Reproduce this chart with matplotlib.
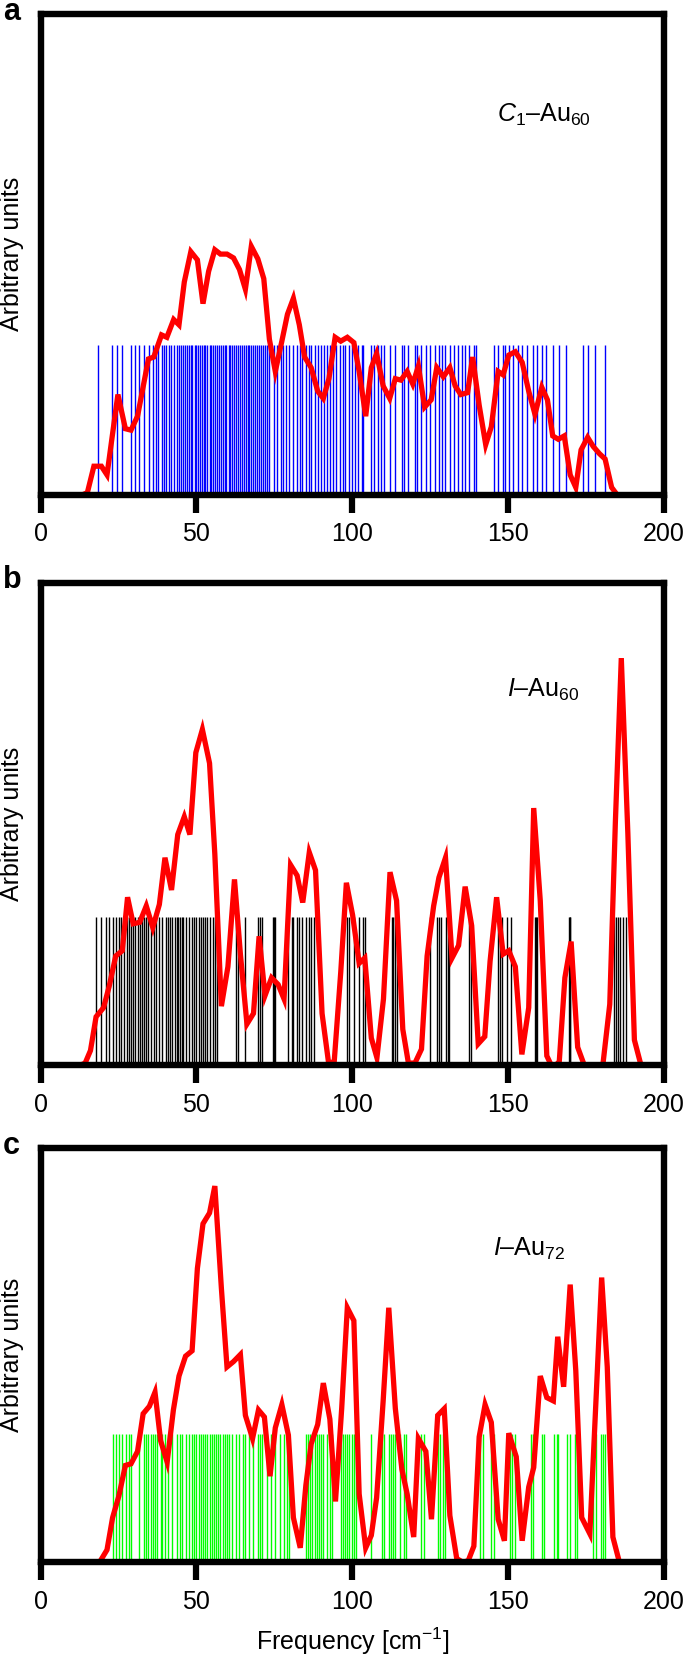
import numpy as np
import matplotlib as mpl
mpl.use('agg')
import matplotlib.pyplot as plt

plt.rcParams['font.family'] = ['Liberation Sans', 'DejaVu Sans']
plt.rcParams['mathtext.fontset'] = 'custom'
plt.rcParams['mathtext.rm'] = 'Liberation Sans'
plt.rcParams['mathtext.it'] = 'Liberation Sans:italic'

# ---- panel a : C1-Au60 ----
a_freq = [13.6, 15.0, 17.1, 19.5, 21.3, 24.8, 27.2, 29.0, 31.1, 34.6, 36.3, 38.8, 40.5, 42.7, 44.4,
          46.1, 48.2, 50.3, 52.1, 53.9, 55.9, 57.7, 59.8, 61.9, 63.8, 65.7, 67.6, 69.7, 71.6, 73.4,
          75.3, 77.4, 79.2, 81.1, 83.0, 84.7, 86.8, 88.9, 90.7, 92.5, 94.5, 96.3, 98.4, 100.5, 102.2,
          104.3, 106.1, 107.8, 109.9, 112.0, 113.8, 115.6, 117.6, 119.4, 121.2, 123.2, 125.3, 127.1,
          129.2, 131.3, 133.0, 134.8, 137.0, 138.6, 140.7, 142.8, 144.6, 146.8, 148.4, 150.2, 152.3,
          154.5, 156.6, 158.6, 160.8, 162.6, 164.3, 166.1, 168.0, 169.9, 171.7, 173.4, 175.5, 177.3,
          179.3, 181.1, 183.2, 184.9]
a_int = [0, 0.4, 5.9, 5.9, 4.1, 20.8, 13.7, 13.4, 16.3, 28.2, 28.6, 33.2, 32.7, 36.4, 35.3,
         44.2, 50.5, 48.8, 39.7, 46.4, 50.9, 50.0, 50.0, 49.2, 46.8, 42.7, 51.6, 49.0, 44.9, 32.3,
         25.6, 31.9, 37.5, 40.8, 35.3, 28.6, 26.4, 21.5, 20.0, 24.1, 32.7, 31.9, 32.7, 31.6, 25.6,
         16.3, 26.4, 29.3, 22.6, 20.0, 24.1, 23.8, 25.6, 23.0, 26.7, 18.2, 19.7, 26.4,
         24.5, 26.4, 22.6, 20.8, 21.2, 28.6, 18.6, 10.4, 14.1, 25.6, 24.9, 29.0, 29.7,
         27.5, 21.5, 16.7, 22.3, 19.7, 12.2, 11.5, 12.2, 4.1, 1.5, 9.3, 11.9, 10.0,
         8.5, 7.4, 1.5, 0]
a_modes = [18.5, 23.0, 24.5, 26.2, 29.0, 30.4, 31.5, 33.2, 34.9, 36.0, 37.0, 37.7, 38.8, 39.5,
           40.2, 41.2, 41.9, 42.8, 43.7, 44.4,
           45.2, 45.8, 46.3, 47.0, 47.6, 48.1, 48.7, 49.4, 50.0, 50.5, 51.1, 51.8, 52.4, 52.9,
           53.5, 54.2, 54.8, 55.4, 56.0, 56.5, 57.2, 57.8, 58.5, 59.0, 59.6, 60.3, 60.9, 61.4,
           62.0, 62.7, 63.3, 63.9, 64.5, 65.1, 65.8, 66.4, 67.0, 67.6, 68.3, 68.9, 69.5, 70.1,
           70.8, 71.4, 72.0, 72.7, 73.3,
           74.9, 76.0, 77.0, 77.8, 78.8, 79.8, 80.9, 82.3, 83.1, 83.9, 85.1, 86.2, 86.8, 87.9,
           89.0, 90.0, 91.0, 91.8, 92.8, 93.9, 94.9, 96.0, 97.0, 97.7, 98.8, 99.8, 100.8, 101.9,
           103.0, 103.4, 106.1, 107.1, 108.2, 109.3, 110.3, 112.1, 113.8, 115.9, 116.6, 118.0,
           120.1, 120.8, 122.2, 123.6, 125.0, 126.4, 127.8, 128.8, 129.9, 131.3, 132.7, 133.8,
           135.2, 136.2, 137.6, 139.0, 139.8, 145.4, 146.8, 148.2, 148.9, 150.3, 151.7, 153.1,
           154.5, 155.9, 158.0, 159.4, 160.8, 162.2, 164.3, 166.4, 168.5, 174.1, 175.5, 177.9,
           181.1]

# ---- panel b : I-Au60 ----
b_freq = [12.9, 14.3, 16.0, 17.8, 20.2, 22.0, 24.1, 26.2, 27.9, 29.7, 31.8, 33.9, 36.0, 38.1, 39.9,
          42.0, 44.0, 46.1, 47.9, 49.8, 51.9, 54.2, 55.9, 58.0, 60.1, 62.2, 64.1, 66.2, 68.3, 70.1,
          72.0, 74.1, 76.2, 78.1, 80.2, 82.3, 84.1, 86.2, 88.2, 90.3, 92.4, 94.2, 96.3, 98.1, 100.1,
          102.2, 104.0, 106.1, 107.9, 110.0, 112.1, 114.2, 116.2, 118.0, 120.1, 122.2, 124.0, 126.1,
          127.8, 129.9, 132.0, 134.1, 136.2, 138.3, 140.4, 142.5, 144.2, 146.3, 148.4, 150.2, 152.3,
          154.4, 156.6, 158.2, 160.3, 162.4, 164.3, 166.4, 168.2, 170.2, 172.3, 174.4, 176.4, 178.3,
          180.4, 182.6, 184.4, 186.3, 188.4, 190.5, 192.6]
b_int = [0, 0.4, 3.0, 10.0, 11.9, 16.3, 22.6, 23.7, 34.8, 29.3, 29.6, 33.0, 28.5, 33.3, 43.0,
         36.3, 47.8, 51.5, 47.8, 64.8, 69.6, 62.6, 43.7, 12.2, 20.4, 38.5, 23.0, 8.5, 10.7, 26.7,
         14.4, 18.1, 16.7, 13.7, 41.5, 39.3, 33.7, 44.1, 40.4, 10.7, 0.4, 0.7, 19.3, 37.8, 31.1,
         21.1, 22.2, 5.6, 1.5, 13.7, 40.0, 34.1, 7.4, 0.4, 0.4, 3.3, 22.6, 33.0,
         38.9, 43.0, 22.2, 24.8, 37.0, 28.9, 4.4, 5.9, 21.5, 34.8, 23.0, 23.7, 20.4,
         2.2, 11.9, 53.3, 34.1, 1.9, -0.7, 0.7, 18.1, 25.6, 3.7, 0, 0, 0,
         0.1, 12.6, 50.4, 84.4, 48.1, 5.2, 0]
b_modes = [17.8, 19.5, 20.9, 22.0, 23.1, 24.1, 25.1, 25.9, 26.9, 27.6, 28.3, 29.0, 29.7, 30.4,
           31.1, 31.8, 32.5, 33.2, 33.9, 34.6, 35.3, 36.3, 37.1, 38.1, 39.1, 40.2, 40.9, 41.6,
           42.3, 43.0, 43.6, 44.1, 44.7, 45.3, 45.8, 46.5, 47.5, 48.6, 49.3, 50.0, 50.7, 51.4,
           52.1, 52.8, 53.5, 54.2, 55.4, 55.9, 56.6, 62.6, 63.3, 65.7, 69.7, 70.4, 71.1, 74.6,
           74.9, 75.3, 79.5, 80.6, 81.1, 82.3, 83.0, 84.0, 85.1, 86.1, 86.8, 87.6, 98.4, 99.1,
           100.5, 102.2, 103.3, 104.1, 112.8, 113.1, 113.8, 114.5, 125.0, 127.1, 127.8, 128.5,
           130.2, 130.6, 131.0, 137.6, 138.1, 146.7, 147.4, 148.1, 149.5, 150.9, 158.7, 158.9,
           159.1, 169.4, 169.7, 169.9, 183.9, 184.6, 185.3, 186.0, 186.7, 187.7]

# ---- panel c : I-Au72 ----
c_freq = [18.9, 21.3, 23.1, 25.1, 27.2, 29.0, 31.1, 32.9, 34.9, 36.7, 38.5, 40.6, 42.6, 44.4, 46.5,
          48.6, 50.3, 52.1, 54.2, 55.9, 58.0, 59.8, 61.9, 64.1, 65.7, 68.0, 69.9, 71.8, 73.6, 75.3,
          77.4, 79.5, 81.1, 83.3, 85.1, 86.8, 88.9, 90.7, 92.8, 94.6, 96.6, 98.4, 100.5, 102.2, 104.3,
          106.1, 107.8, 109.9, 111.7, 113.8, 115.9, 117.6, 119.7, 121.2, 123.6, 125.4, 127.4, 129.5,
          131.3, 133.5, 135.5, 137.2, 139.0, 140.7, 142.6, 144.6, 146.8, 148.8, 150.2, 152.6, 154.5,
          156.6, 158.2, 160.3, 162.4, 164.5, 165.9, 167.8, 169.9, 171.7, 173.6, 176.2, 177.9, 180.0,
          181.8, 183.6, 185.7]
c_int = [0, 3.0, 10.8, 16.0, 23.4, 23.8, 26.8, 35.9, 37.7, 41.1, 29.4, 24.2, 36.8, 45.0, 49.8,
         51.1, 71.0, 81.8, 84.4, 90.9, 66.2, 47.2, 48.5, 50.2, 35.5, 29.9, 36.8, 35.1, 20.8, 32.5,
         38.1, 30.7, 10.8, 3.5, 18.6, 28.6, 33.3, 43.3, 34.6, 14.7, 37.2, 61.5, 58.4, 16.5, 3.5,
         6.5, 15.6, 39.0, 61.5, 37.2, 22.5, 16.5, 6.1, 29.9, 26.8, 10.4, 35.5, 37.1,
         11.3, 0.9, 0, 0.4, 3.9, 30.3, 38.1, 33.8, 10.4, 5.2, 31.2, 25.5, 5.2,
         18.2, 22.9, 45.0, 39.8, 39.0, 54.5, 42.4, 67.1, 46.3, 10.8, 6.9, 34.6, 68.8,
         47.2, 6.1, 0]
c_modes = [23.1, 24.1, 25.1, 26.2, 27.3, 28.3, 29.0, 31.5, 33.2, 33.9, 34.6, 35.3, 36.0, 36.7,
           37.4, 38.5, 39.1, 39.9, 40.9, 42.3, 43.7, 44.7, 45.5, 46.5, 47.5, 48.6, 49.3, 50.0,
           50.7, 51.4, 52.1, 52.8, 53.5, 54.2, 54.9, 55.6, 56.3, 57.0, 57.7, 58.4, 59.1, 59.8,
           60.5, 61.5, 62.6, 63.8, 64.8, 65.7, 66.9, 68.3, 69.7, 70.4, 71.1, 72.7, 73.9, 75.3,
           76.7, 78.1, 79.2, 79.7, 85.1, 85.8, 86.5, 87.2, 87.9, 88.6, 89.3, 90.0, 90.7, 91.8,
           92.8, 93.5, 96.3, 97.0, 97.7, 98.4, 99.1, 99.8, 100.5, 101.2, 106.1, 109.6, 110.3,
           111.7, 112.4, 113.1, 113.8, 115.2, 116.6, 117.3, 122.2, 122.9, 127.4, 128.2, 129.2,
           129.9, 141.1, 141.8, 144.6, 145.3, 150.7, 151.2, 152.1, 157.3, 158.0, 160.8, 161.5,
           164.7, 165.7, 166.1, 168.9, 169.9, 171.3, 172.0, 177.3, 178.3, 179.7, 180.4, 181.1]

panels = [
    ('a', a_freq, a_int, a_modes, 31.2, '#0000ff', 1.0, r'$\mathit{C}_{\mathrm{1}}$–Au$_{\mathrm{60}}$', 0.807, 0.79),
    ('b', b_freq, b_int, b_modes, 30.7, 'black', 1.0, r'$\mathit{I}$–Au$_{\mathrm{60}}$', 0.807, 0.778),
    ('c', c_freq, c_int, c_modes, 31.0, '#00ff00', 1.0, r'$\mathit{I}$–Au$_{\mathrm{72}}$', 0.783, 0.758),
]

# axes boxes in figure fractions (left, bottom, width, height)
W, H = 685, 1662
boxes = [
    (40.6 / W, 1 - 494.6 / H, 623.4 / W, 481.0 / H),
    (40.6 / W, 1 - 1065.0 / H, 623.4 / W, 482.1 / H),
    (40.6 / W, 1 - 1562.3 / H, 623.4 / W, 413.9 / H),
]
letter_y = [12, 580, 1146.5]

fig = plt.figure(figsize=(W / 100, H / 100), dpi=100)

for (tag, freq, inten, modes, hstick, col, lw, label, tx, ty), box, ly in zip(panels, boxes, letter_y):
    ax = fig.add_axes(box)
    ax.vlines(modes, 0, hstick, colors=col, lw=lw, zorder=1)
    ax.plot(freq, inten, color='#ff0000', lw=3.8, zorder=2, solid_joinstyle='miter')

    ax.set_xlim(0, 200)
    ax.set_ylim(0, 100)
    ax.set_xticks([0, 50, 100, 150, 200])
    ax.set_yticks([])
    for s in ax.spines.values():
        s.set_linewidth(4.6)
        s.set_zorder(3)
    ax.tick_params(axis='x', direction='out', length=13, width=4.5, pad=7, labelsize=18)
    ax.set_ylabel('Arbitrary units', fontsize=18)
    ax.yaxis.set_label_coords(-0.026, 0.5)
    ax.text(tx, ty, label, transform=ax.transAxes, fontsize=18, ha='center', va='center')

    fig.text(3 / W, 1 - ly / H, tag, fontsize=22, fontweight='bold', ha='left', va='center')

ax.set_xlabel('Frequency [cm$^{-1}$]', fontsize=18, labelpad=8)

plt.savefig('out.png', dpi=100)
